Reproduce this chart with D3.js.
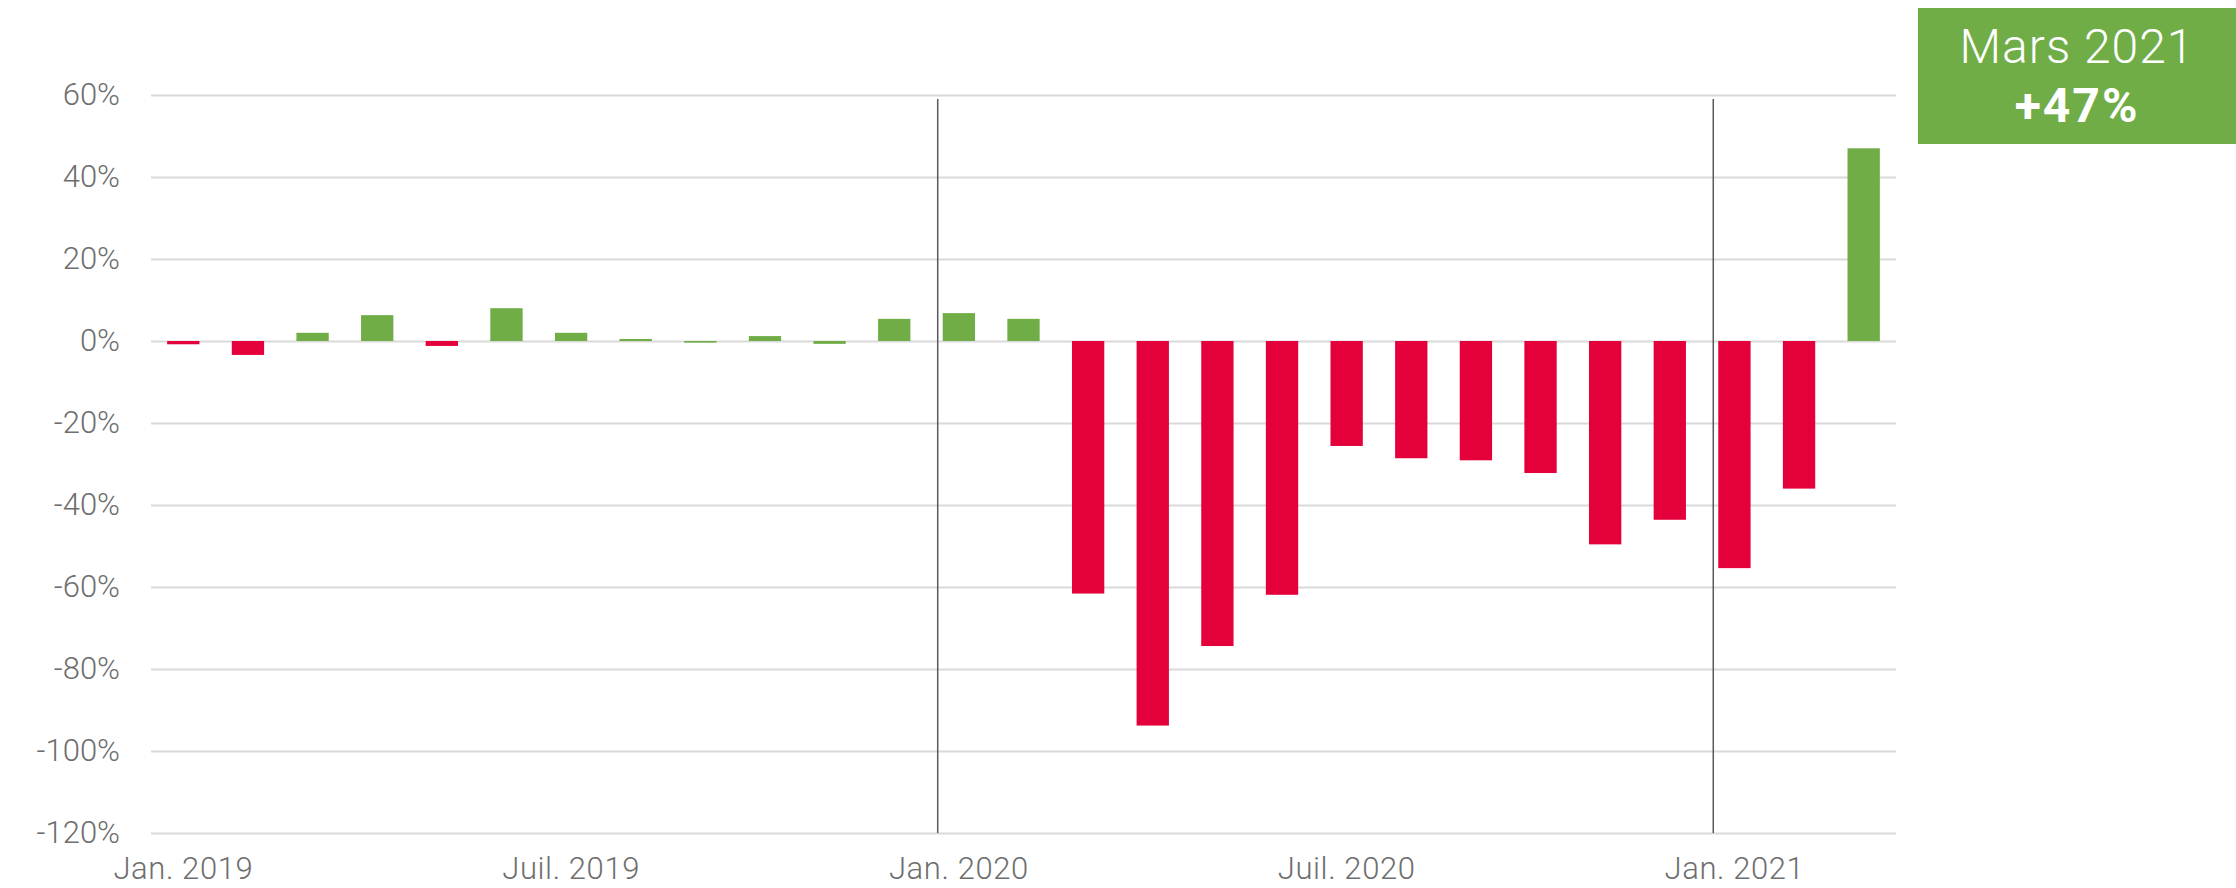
<!DOCTYPE html>
<html>
<head>
<meta charset="utf-8">
<script src="https://cdn.jsdelivr.net/npm/d3@7"></script>
<style>
  body { margin: 0; background: #fff; }
  text { font-family: Roboto, "Noto Sans", sans-serif; }
</style>
</head>
<body>
<div id="chart"></div>
<script>
// monthly change, Jan. 2019 -> Mars 2021
const months = [
  '2019-01', '2019-02', '2019-03', '2019-04', '2019-05', '2019-06',
  '2019-07', '2019-08', '2019-09', '2019-10', '2019-11', '2019-12',
  '2020-01', '2020-02', '2020-03', '2020-04', '2020-05', '2020-06',
  '2020-07', '2020-08', '2020-09', '2020-10', '2020-11', '2020-12',
  '2021-01', '2021-02', '2021-03'
];
const values = [
  -0.8, -3.4, 2.0, 6.3, -1.2, 8.0,
  2.0, 0.5, -0.4, 1.2, -0.7, 5.4,
  6.8, 5.4, -61.6, -93.8, -74.4, -61.9,
  -25.6, -28.6, -29.1, -32.2, -49.6, -43.6,
  -55.4, -36.0, 47.0
];
// colour group of each bar as in the source chart
const trend = [
  'baisse', 'baisse', 'hausse', 'hausse', 'baisse', 'hausse',
  'hausse', 'hausse', 'hausse', 'hausse', 'hausse', 'hausse',
  'hausse', 'hausse', 'baisse', 'baisse', 'baisse', 'baisse',
  'baisse', 'baisse', 'baisse', 'baisse', 'baisse', 'baisse',
  'baisse', 'baisse', 'hausse'
];
const yTicks = [60, 40, 20, 0, -20, -40, -60, -80, -100, -120];
const xTicks = ['2019-01', '2019-07', '2020-01', '2020-07', '2021-01'];
const xTickLabels = ['Jan. 2019', 'Juil. 2019', 'Jan. 2020', 'Juil. 2020', 'Jan. 2021'];
const yearMarks = ['2020-01', '2021-01'];
const calloutTitle = 'Mars 2021';
const calloutValue = '+47%';

const width = 2236;
const height = 888;
const margin = { top: 95, right: 340, bottom: 55, left: 151 };

const data = months.map((m, i) => ({ month: m, value: values[i], trend: trend[i] }));

const svg = d3.select('#chart')
  .append('svg')
  .attr('width', width)
  .attr('height', height);

const x = d3.scaleBand()
  .domain(months)
  .range([margin.left, width - margin.right])
  .paddingInner(0.5)
  .paddingOuter(0.25);

const y = d3.scaleLinear()
  .domain([-120, 60])
  .range([height - margin.bottom, margin.top]);

const color = d3.scaleOrdinal()
  .domain(['hausse', 'baisse'])
  .range(['#70ad47', '#e4003b']);

/* gridlines + y labels */
const yAxis = svg.append('g')
  .attr('transform', `translate(${margin.left},0)`)
  .call(d3.axisLeft(y)
    .tickValues(yTicks)
    .tickSize(-(width - margin.right - margin.left))
    .tickPadding(31)
    .tickFormat(d => d + '%'));
yAxis.select('.domain').remove();
yAxis.selectAll('.tick line')
  .attr('stroke', '#d9d9d9')
  .attr('stroke-width', 2);
yAxis.selectAll('.tick text')
  .attr('fill', '#6e6e6e')
  .attr('font-size', 31)
  .attr('font-weight', 300);

/* bars */
svg.append('g')
  .selectAll('rect')
  .data(data)
  .enter()
  .append('rect')
  .attr('x', d => x(d.month))
  .attr('width', x.bandwidth())
  .attr('y', d => y(Math.max(0, d.value)))
  .attr('height', d => Math.abs(y(d.value) - y(0)))
  .attr('fill', d => color(d.trend));

/* year separators */
svg.append('g')
  .selectAll('line')
  .data(yearMarks)
  .enter()
  .append('line')
  .attr('x1', d => x(d) - 5)
  .attr('x2', d => x(d) - 5)
  .attr('y1', y(59))
  .attr('y2', y(-120))
  .attr('stroke', '#5a5a5a')
  .attr('stroke-width', 1.5);

/* x labels */
const xAxis = svg.append('g')
  .attr('transform', `translate(0,${y(-120)})`)
  .call(d3.axisBottom(x)
    .tickValues(xTicks)
    .tickSize(0)
    .tickPadding(24)
    .tickFormat(d => xTickLabels[xTicks.indexOf(d)]));
xAxis.select('.domain').remove();
xAxis.selectAll('.tick text')
  .attr('fill', '#6e6e6e')
  .attr('font-size', 31)
  .attr('font-weight', 300)
  .attr('letter-spacing', 0.6);

/* callout box */
const box = svg.append('g');
box.append('rect')
  .attr('x', 1918)
  .attr('y', 8)
  .attr('width', width - 1918)
  .attr('height', 136)
  .attr('fill', color('hausse'));
box.append('text')
  .attr('x', 2077)
  .attr('y', 63)
  .attr('text-anchor', 'middle')
  .attr('fill', '#fff')
  .attr('font-size', 48)
  .attr('font-weight', 300)
  .attr('letter-spacing', 1)
  .text(calloutTitle);
box.append('text')
  .attr('x', 2077)
  .attr('y', 122)
  .attr('text-anchor', 'middle')
  .attr('fill', '#fff')
  .attr('font-size', 48)
  .attr('font-weight', 700)
  .attr('letter-spacing', 2)
  .text(calloutValue);
</script>
</body>
</html>
